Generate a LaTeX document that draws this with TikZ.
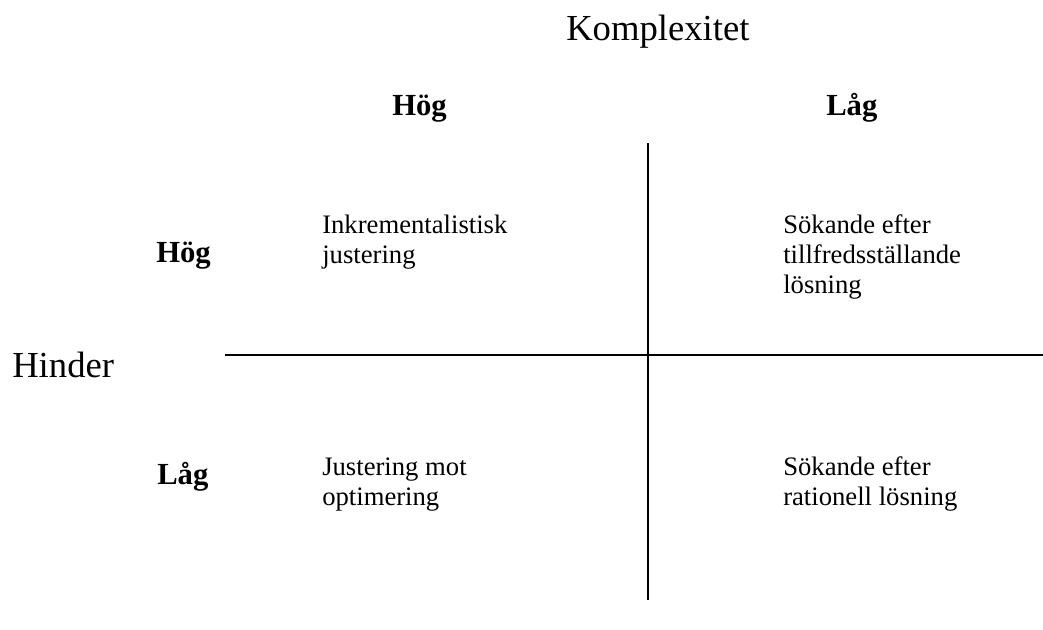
\documentclass[tikz,border=0pt]{standalone}
\usepackage{fontspec}
\setmainfont{Liberation Serif}
\begin{document}
\begin{tikzpicture}[x=0.75pt,y=-0.75pt,
  axis/.style={line width=1.5pt,black},
  title/.style={font=\fontsize{27.5}{30}\selectfont,anchor=base west,inner sep=0pt},
  head/.style={font=\fontsize{23}{26}\selectfont\bfseries,anchor=base west,inner sep=0pt},
  cell/.style={font=\fontsize{20}{22.5}\selectfont,anchor=base west,inner sep=0pt,align=left}]
\useasboundingbox (0,0) rectangle (1043,629);
\coordinate (vtop) at (648,143);
\coordinate (vbot) at (648,600);
\coordinate (hleft) at (225,355);
\coordinate (hright) at (1043,355);
\draw[axis] (vtop) -- (vbot);
\draw[axis] (hleft) -- (hright);
\node[title] (komplex) at (566,40) {Komplexitet};
\node[title] (hinder) at (12,377) {Hinder};
\node[head] (colhog) at (392,115) {Hög};
\node[head] (collag) at (826,115) {Låg};
\node[head] (rowhog) at (156,262) {Hög};
\node[head] (rowlag) at (157,484) {Låg};
\node[cell] (c11) at (322,263) {Inkrementalistisk\\justering};
\node[cell] (c12) at (783,293) {Sökande efter\\tillfredsställande\\lösning};
\node[cell] (c21) at (322,505) {Justering mot\\optimering};
\node[cell] (c22) at (783,505) {Sökande efter\\rationell lösning};
\end{tikzpicture}
\end{document}
